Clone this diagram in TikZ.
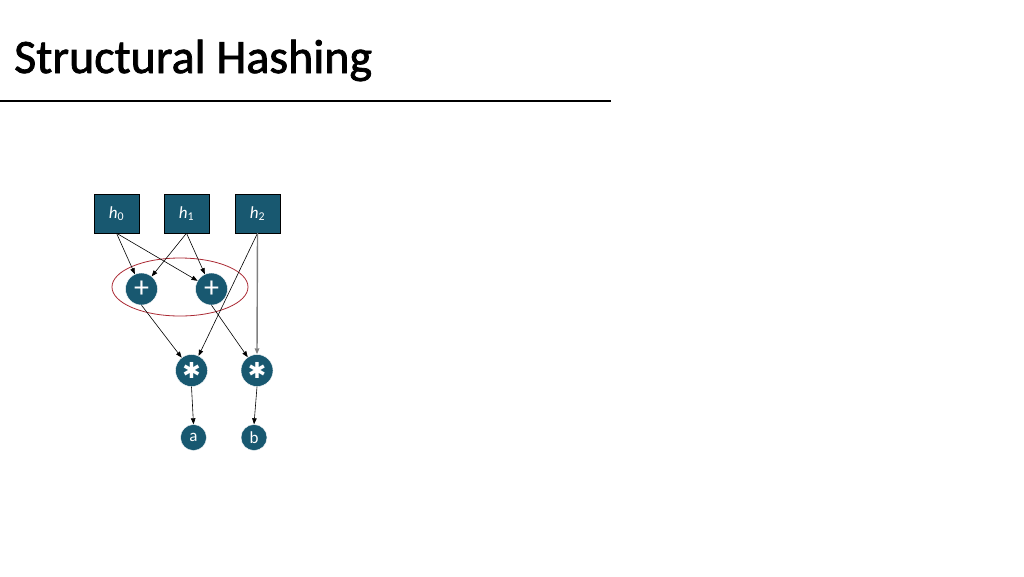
\documentclass[tikz,border=0pt]{standalone}
\usepackage{fontspec}
\setmainfont{Carlito}
\newfontfamily\symfont{DejaVu Sans}
\newfontfamily\headfont[FakeBold=1.6]{Carlito}
\usetikzlibrary{arrows.meta,shapes.geometric}
\definecolor{nodeblue}{RGB}{24,88,112}
\definecolor{grpred}{RGB}{170,40,50}
\tikzset{
	hashbox/.style = {draw = black, fill = nodeblue, text = white, minimum width = 45, minimum height = 39, inner sep = 0, font = \fontsize{17}{18}\selectfont},
	opnode/.style = {circle, draw = white, fill = nodeblue, text = white, minimum size = 32, inner sep = 0, font = \fontsize{30}{30}\selectfont},
	outnode/.style = {circle, draw = white, fill = nodeblue, text = white, minimum size = 26, inner sep = 0, font = \fontsize{17}{17}\selectfont},
	wire/.style = {draw, line width = 0.6, -{Triangle[length=6pt, width=4.5pt]}}
}
\begin{document}
\begin{tikzpicture}[x = 1pt, y = -1pt]
	\useasboundingbox (0,0) rectangle (1024,576);
	% title and rule
	\node (title) at (14,73) [anchor = base west, inner sep = 0] {\headfont\fontsize{48}{50}\selectfont Structural Hashing};
	\draw [line width = 2.5] (0,101) coordinate (ruleL) -- (611,101) coordinate (ruleR);
	% inputs
	\node (h0) at (116.5,213.5) [hashbox] {\textit{h}\textsubscript{0}};
	\node (h1) at (186.5,213.5) [hashbox] {\textit{h}\textsubscript{1}};
	\node (h2) at (257.5,213.5) [hashbox] {\textit{h}\textsubscript{2}};
	% structurally equal adders
	\node (grp) at (180,287) [draw = grpred, line width = 0.8, ellipse, minimum width = 136, minimum height = 58] {};
	\node (add0) at (141.5,289) [opnode] {+};
	\node (add1) at (211.5,289) [opnode] {+};
	% multipliers and outputs
	\node (mul0) at (191.5,370.5) [opnode] {\symfont\fontsize{22}{22}\selectfont ✱};
	\node (mul1) at (257,370.5) [opnode] {\symfont\fontsize{22}{22}\selectfont ✱};
	\node (outa) at (193.5,437.5) [outnode] {a};
	\node (outb) at (254,437.5) [outnode] {b};
	\draw [wire] (h0.south) -- (add0);
	\draw [wire] (h0.south) -- (add1);
	\draw [wire] (h1.south) -- (add0);
	\draw [wire] (h1.south) -- (add1);
	\draw [wire] (h2.south) -- (mul0);
	\draw [wire, draw = gray, line width = 1.4] (h2.south) -- (mul1.north);
	\draw [wire] (add0.south) -- (mul0);
	\draw [wire] (add1.south) -- (mul1);
	\draw [wire] (mul0.south) -- (outa.north);
	\draw [wire] (mul1.south) -- (outb.north);
\end{tikzpicture}
\end{document}
